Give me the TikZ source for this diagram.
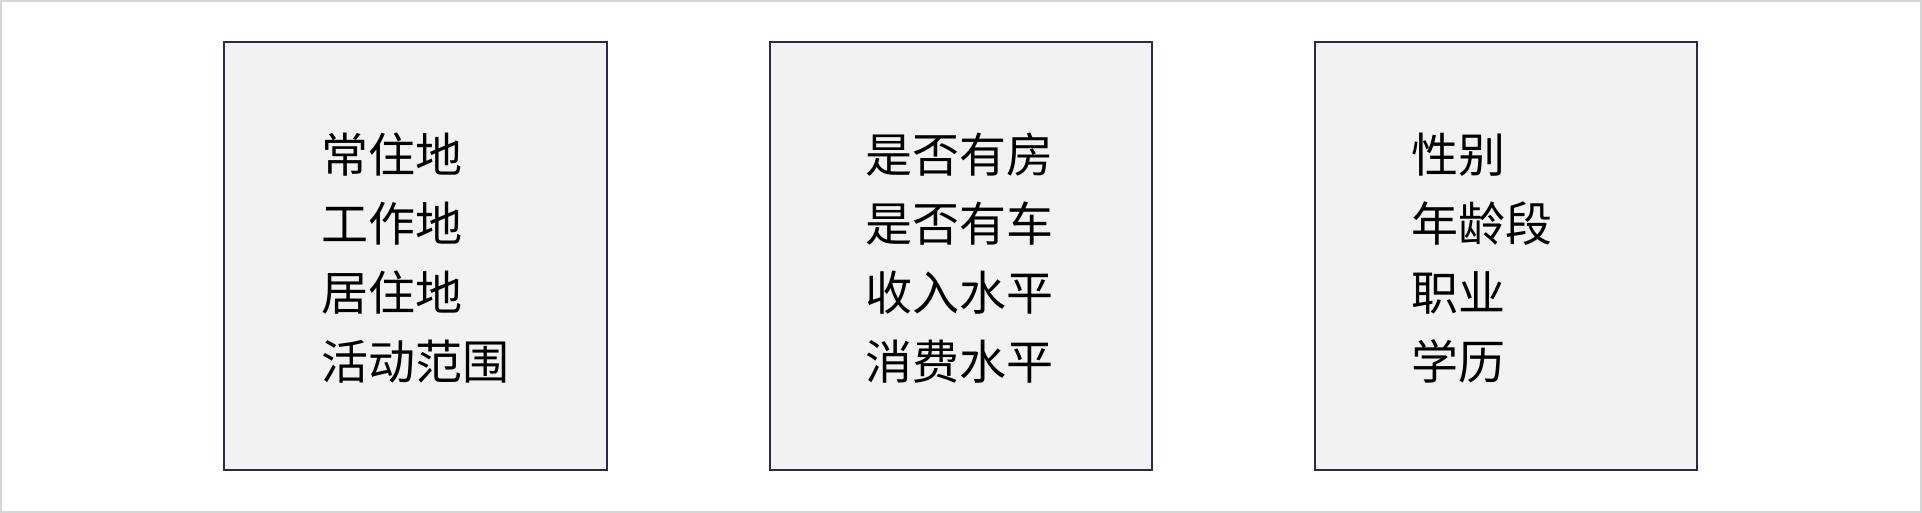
\documentclass[tikz,border=0pt]{standalone}
\usepackage{fontspec}
\newfontfamily\cjk{Noto Sans CJK SC}
\definecolor{boxfill}{HTML}{F2F2F2}
\definecolor{boxline}{HTML}{2B2B48}
\definecolor{frameline}{HTML}{D6D6D6}
\tikzset{
  panel/.style={draw=boxline, fill=boxfill, line width=2pt, inner sep=0pt,
    minimum height=428.5pt, outer sep=0pt},
  item/.style={anchor=base west, inner sep=0pt, font=\cjk\fontsize{47}{56}\selectfont, text=black},
}
\begin{document}
\begin{tikzpicture}[x=1pt,y=1pt]
\useasboundingbox (0,0) rectangle (1922,513);
\draw[frameline, line width=2pt] (1,1) rectangle (1921,512);
% boxes
\node[panel, minimum width=383.5pt] (box1) at (415.25,256.75) {};
\node[panel, minimum width=382.5pt] (box2) at (960.75,256.75) {};
\node[panel, minimum width=382pt] (box3) at (1506,256.75) {};
% box 1
\node[item] (a1) at (321.5,340.5) {常住地};
\node[item] (a2) at (321.5,271.5) {工作地};
\node[item] (a3) at (321.5,202.5) {居住地};
\node[item] (a4) at (321.5,133.5) {活动范围};
% box 2
\node[item] (b1) at (865,340.5) {是否有房};
\node[item] (b2) at (865,271.5) {是否有车};
\node[item] (b3) at (865,202.5) {收入水平};
\node[item] (b4) at (865,133.5) {消费水平};
% box 3
\node[item] (c1) at (1411.5,340.5) {性别};
\node[item] (c2) at (1411.5,271.5) {年龄段};
\node[item] (c3) at (1411.5,202.5) {职业};
\node[item] (c4) at (1411.5,133.5) {学历};
\end{tikzpicture}
\end{document}
